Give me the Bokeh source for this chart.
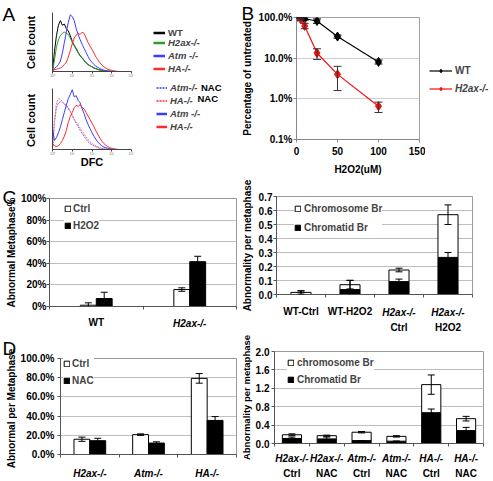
import numpy as np
from bokeh.plotting import figure
from bokeh.layouts import column, row
from bokeh.models import (Range1d, FixedTicker, Legend, LegendItem, Label, LinearAxis,
                          ColumnDataSource, Whisker, TeeHead, PrintfTickFormatter)
from bokeh.embed import file_html
from bokeh.resources import INLINE

FONT = "Liberation Sans"


def S(v):
    return int(round(v))


def fs(v):
    return f"{v:.1f}px"

# ---------------- data ----------------
# Panel A: DFC fluorescence histograms (x = decades, 10^0..10^4; y = relative cell count)
hist_x = [0.0, 0.1, 0.2, 0.3, 0.4, 0.5, 0.6, 0.7, 0.8, 0.9, 1.0, 1.1, 1.2, 1.3, 1.4, 1.5, 1.6, 1.7,
          1.8, 1.9, 2.0, 2.1, 2.2, 2.3, 2.4, 2.5, 2.6, 2.7, 2.8, 2.9, 3.0, 3.1, 3.2, 3.3, 3.4]
a_wt = [0.0, 0.35, 0.62, 0.80, 0.88, 0.80, 0.82, 0.74, 0.70, 0.62, 0.52, 0.45, 0.40, 0.33, 0.27, 0.24,
        0.19, 0.15, 0.12, 0.10, 0.08, 0.06, 0.05, 0.035, 0.025, 0.02, 0.012, 0.008, 0.005, 0.003,
        0.002, 0.001, 0.0, 0.0, 0.0]
a_h2ax = [0.0, 0.20, 0.42, 0.55, 0.62, 0.66, 0.68, 0.66, 0.64, 0.58, 0.50, 0.44, 0.38, 0.32, 0.27,
          0.23, 0.19, 0.15, 0.12, 0.10, 0.08, 0.06, 0.045, 0.035, 0.025, 0.018, 0.012, 0.008, 0.005,
          0.003, 0.002, 0.001, 0.0, 0.0, 0.0]
a_atm = [0.0, 0.05, 0.08, 0.12, 0.18, 0.32, 0.50, 0.68, 0.85, 0.98, 0.95, 0.88, 0.74, 0.64, 0.55,
         0.47, 0.40, 0.33, 0.26, 0.20, 0.16, 0.12, 0.09, 0.07, 0.05, 0.035, 0.025, 0.015, 0.01, 0.005,
         0.003, 0.002, 0.001, 0.0, 0.0]
a_ha = [0.0, 0.03, 0.04, 0.05, 0.06, 0.08, 0.12, 0.16, 0.25, 0.36, 0.48, 0.58, 0.63, 0.66, 0.64, 0.68,
        0.66, 0.58, 0.50, 0.44, 0.38, 0.32, 0.25, 0.20, 0.15, 0.11, 0.08, 0.06, 0.04, 0.03, 0.02,
        0.012, 0.006, 0.002, 0.0]
a_atm_nac = [0.0, 0.45, 0.70, 0.78, 0.80, 0.79, 0.76, 0.74, 0.70, 0.64, 0.58, 0.50, 0.44, 0.38, 0.32,
             0.27, 0.22, 0.17, 0.13, 0.10, 0.08, 0.06, 0.045, 0.03, 0.02, 0.015, 0.01, 0.006, 0.003,
             0.002, 0.001, 0.0, 0.0, 0.0, 0.0]
a_ha_nac = [0.0, 0.50, 0.78, 0.85, 0.84, 0.80, 0.76, 0.72, 0.68, 0.62, 0.56, 0.50, 0.46, 0.41, 0.36,
            0.31, 0.26, 0.21, 0.17, 0.13, 0.10, 0.08, 0.06, 0.045, 0.03, 0.02, 0.013, 0.008, 0.005,
            0.003, 0.002, 0.001, 0.0, 0.0, 0.0]
a_atm2 = [0.35, 0.15, 0.20, 0.28, 0.38, 0.50, 0.62, 0.74, 0.85, 0.92, 1.00, 0.88, 0.90, 0.82, 0.78,
          0.68, 0.60, 0.50, 0.42, 0.35, 0.28, 0.22, 0.17, 0.12, 0.09, 0.06, 0.04, 0.03, 0.02, 0.012,
          0.008, 0.004, 0.002, 0.0, 0.0]
a_ha2 = [0.10, 0.06, 0.05, 0.06, 0.10, 0.15, 0.22, 0.32, 0.45, 0.55, 0.62, 0.70, 0.74, 0.72, 0.75,
         0.70, 0.68, 0.62, 0.56, 0.50, 0.44, 0.38, 0.31, 0.25, 0.19, 0.14, 0.10, 0.07, 0.05, 0.03,
         0.02, 0.012, 0.006, 0.002, 0.0]
hist_ticks = {0: "10\u2070", 1: "10\u00b9", 2: "10\u00b2", 3: "10\u00b3", 4: "10\u2074"}

# Panel B: survival after H2O2
b_dose = [0, 5, 10, 25, 50, 100]
b_wt = [1.00, 0.97, 0.93, 0.82, 0.34, 0.081]
b_wt_lo = [0.96, 0.93, 0.86, 0.72, 0.31, 0.072]
b_wt_hi = [1.04, 1.01, 1.02, 0.92, 0.37, 0.090]
b_h2ax = [1.00, 0.91, 0.62, 0.134, 0.040, 0.0066]
b_h2ax_lo = [0.97, 0.86, 0.53, 0.093, 0.016, 0.0046]
b_h2ax_hi = [1.03, 0.96, 0.72, 0.170, 0.063, 0.0083]
b_yticks = {0.001: "0.1%", 0.01: "1.0%", 0.1: "10.0%", 1: "100.0%"}

# Panel C left: abnormal metaphases (%)
c1_cats = ["WT", "H2ax-/-"]
c1_ctrl = [1.2, 15.7]
c1_ctrl_err = [2.2, 1.6]
c1_h2o2 = [7.4, 41.5]
c1_h2o2_err = [5.8, 5.0]

# Panel C right: abnormality per metaphase
c2_line1 = ["WT-Ctrl", "WT-H2O2", "H2ax-/-", "H2ax-/-"]
c2_line2 = ["", "", "Ctrl", "H2O2"]
c2_chromatid = [0.0, 0.035, 0.092, 0.265]
c2_chromatid_err = [0.025, 0.067, 0.018, 0.035]
c2_chromosome = [0.015, 0.035, 0.083, 0.305]
c2_total_err = [0.012, 0.030, 0.013, 0.070]

# Panel D left: abnormal per metaphase (%)
d1_cats = ["H2ax-/-", "Atm-/-", "HA-/-"]
d1_ctrl = [15.9, 20.7, 79.3]
d1_ctrl_err = [2.2, 0.8, 5.0]
d1_nac = [14.4, 11.9, 35.5]
d1_nac_err = [2.5, 1.3, 4.0]

# Panel D right: abnormality per metaphase
d2_line1 = ["H2ax-/-", "H2ax-/-", "Atm-/-", "Atm-/-", "HA-/-", "HA-/-"]
d2_line2 = ["Ctrl", "NAC", "Ctrl", "NAC", "Ctrl", "NAC"]
d2_chromatid = [0.11, 0.10, 0.063, 0.05, 0.67, 0.28]
d2_chromatid_err = [0.03, 0.04, 0.0, 0.0, 0.08, 0.07]
d2_chromosome = [0.08, 0.07, 0.182, 0.105, 0.61, 0.26]
d2_total_err = [0.02, 0.012, 0.015, 0.015, 0.21, 0.05]

# ---------------- helpers ----------------
AX = "#555555"
OFF = 1000.0   # canvas data offset (legend proxies stay out of view)


def make_fig(box, fr, x_range, y_range, y_axis_type="linear"):
    x0, y0, x1, y1 = box
    fx0, fy0, fx1, fy1 = fr
    p = figure(width=S(x1) - S(x0), height=S(y1) - S(y0), title=None,
               min_border_left=S(fx0) - S(x0), min_border_right=S(x1) - S(fx1),
               min_border_top=S(fy0) - S(y0), min_border_bottom=S(y1) - S(fy1),
               x_range=x_range, y_range=y_range, y_axis_type=y_axis_type,
               output_backend="svg", toolbar_location=None)
    p.outline_line_color = None
    p.grid.visible = False
    p.background_fill_color = "white"
    p.border_fill_color = "white"
    return p


def canvas(box):
    x0, y0, x1, y1 = box
    w, h = S(x1) - S(x0), S(y1) - S(y0)
    p = figure(width=w, height=h, x_range=Range1d(OFF, OFF + w), y_range=Range1d(OFF, OFF + h),
               title=None, min_border_left=0, min_border_right=0, min_border_top=0,
               min_border_bottom=0, x_axis_location=None, y_axis_location=None,
               output_backend="svg", toolbar_location=None)
    p.outline_line_color = None
    p.grid.visible = False
    p.background_fill_color = "white"
    p.border_fill_color = "white"
    return p


def solo(p):
    # wrap so that sibling plots in a row do not get their frames aligned
    return column(p, spacing=0)


def ctext(p, box, ax, ay, t, size=10, style="bold", align="center", angle=0.0):
    x0, y0, x1, y1 = box
    p.add_layout(Label(x=OFF + ax - x0, y=OFF + y1 - ay, text=t, text_font=FONT,
                       text_font_size=fs(size), text_font_style=style, text_align=align,
                       text_baseline="middle", angle=angle, text_color="black"))


def style_axis(ax, size=10, color=AX, tick_out=3, standoff=3):
    ax.axis_line_color = color
    ax.major_tick_line_color = color
    ax.minor_tick_line_color = None
    ax.major_tick_in = 0
    ax.major_tick_out = tick_out
    ax.major_label_standoff = standoff
    ax.major_label_text_font = FONT
    ax.major_label_text_font_size = fs(size)
    ax.major_label_text_font_style = "bold"
    ax.major_label_text_color = "black"


def axis_title(ax, t, standoff, size=10):
    ax.axis_label = t
    ax.axis_label_text_font = FONT
    ax.axis_label_text_font_size = fs(size)
    ax.axis_label_text_font_style = "bold"
    ax.axis_label_text_color = "black"
    ax.axis_label_standoff = standoff


def legend(p, origin, items, lx, cy, size=10, style="bold", pitch=12, gw=7, gh=7,
           standoff=3, bg=False):
    # origin = (left, bottom) of the frame in page pixels; the tuple is the legend's bottom-left
    ox, oyb = origin
    n = len(items)
    H = int(np.ceil(size * 1.35))
    sp = int(round(pitch - H))
    # the legend box height does not shrink for a negative spacing
    bottom = cy - H / 2.0 + n * H + (n - 1) * max(sp, 0)
    lg = Legend(items=items, location=(int(round(lx - ox)), int(round(oyb - bottom))),
                label_text_font=FONT, label_text_font_size=fs(size), label_text_font_style=style,
                glyph_width=gw, glyph_height=gh, label_standoff=standoff,
                label_height=H, label_width=0, spacing=sp, padding=0, margin=0,
                border_line_color=None, background_fill_color="white",
                background_fill_alpha=1.0 if bg else 0.0)
    p.add_layout(lg)


def whisk(p, xs, center, err, color="black", size=7):
    lo = [c - e for c, e in zip(center, err)]
    hi = [c + e for c, e in zip(center, err)]
    src = ColumnDataSource(dict(x=xs, lo=lo, hi=hi))
    p.add_layout(Whisker(base="x", lower="lo", upper="hi", source=src, level="overlay",
                         line_color=color, line_width=1,
                         upper_head=TeeHead(size=size, line_color=color, line_width=1),
                         lower_head=TeeHead(size=size, line_color=color, line_width=1)))


def bar_axes(p, yticks, fmt, standoff):
    ya = p.yaxis[0]
    style_axis(ya, standoff=standoff)
    ya.ticker = FixedTicker(ticks=yticks)
    ya.formatter = PrintfTickFormatter(format=fmt)
    p.ygrid.visible = True
    p.ygrid.grid_line_color = "#bdbdbd"
    p.outline_line_color = "#9a9a9a"


def cat_axis(p, ticks, labels, style, standoff, first=False, ncat=0):
    if first:
        ax = p.xaxis[0]
    else:
        ax = LinearAxis()
        p.add_layout(ax, "below")
    bounds = [i - 0.5 for i in range(ncat + 1)] if first else []
    ax.ticker = FixedTicker(ticks=ticks, minor_ticks=bounds)
    ax.major_label_overrides = {t: l for t, l in zip(ticks, labels)}
    ax.major_label_text_font = FONT
    ax.major_label_text_font_size = fs(10)
    ax.major_label_text_font_style = style
    ax.major_label_text_color = "black"
    ax.major_label_standoff = standoff
    ax.major_tick_in = 0
    ax.major_tick_out = 0
    ax.major_tick_line_color = None
    ax.minor_tick_in = 0
    ax.minor_tick_out = 3 if first else 0
    ax.minor_tick_line_color = AX if first else None
    ax.axis_line_color = AX if first else None


def hist_axes(p):
    xa = p.xaxis[0]
    style_axis(xa, size=3.5, color="#444444", tick_out=2, standoff=0)
    xa.major_label_text_color = "#777777"
    xa.major_label_text_font_style = "normal"
    xa.ticker = FixedTicker(ticks=list(hist_ticks.keys()))
    xa.major_label_overrides = hist_ticks
    ya = p.yaxis[0]
    style_axis(ya, color="#444444", tick_out=0)
    ya.ticker = FixedTicker(ticks=[])

COL_BLUE = "#3c3cff"
COL_RED = "#ff2a2a"
COL_GREEN = "#2e9e2e"
COL_BLUE_L = "#6a6aff"
COL_RED_L = "#ff6f6f"
COL_B_RED = "#ee1111"

R1 = 179   # bottom of first row
R2 = 335   # bottom of second row
R3 = 481

# ---------------- Row 1 ----------------
BOX_LA = (0, 0, 49, R1)
cla = canvas(BOX_LA)
ctext(cla, BOX_LA, 2, 13.5, "A", size=19, style="normal", align="left")
ctext(cla, BOX_LA, 30, 42, "Cell count", size=11, angle=np.pi / 2)
ctext(cla, BOX_LA, 30, 120, "Cell count", size=11, angle=np.pi / 2)

BOX_A1 = (49, 0, 140, 80)
FR_A1 = (52, 12, 131, 72)
pa1 = make_fig(BOX_A1, FR_A1, Range1d(0, 4), Range1d(0, 1.02))
hist_axes(pa1)
for ys, col in [(a_wt, "black"), (a_h2ax, COL_GREEN), (a_atm, COL_BLUE), (a_ha, COL_RED)]:
    pa1.line(hist_x, ys, line_color=col, line_width=1)

BOX_A2 = (49, 80, 140, R1)
FR_A2 = (52, 88, 131, 149)
pa2 = make_fig(BOX_A2, FR_A2, Range1d(0, 4), Range1d(0, 1.02))
hist_axes(pa2)
axis_title(pa2.xaxis[0], "DFC", -3, size=11)
pa2.line(hist_x, a_atm_nac, line_color=COL_BLUE_L, line_width=1, line_dash="2 1")
pa2.line(hist_x, a_ha_nac, line_color=COL_RED_L, line_width=1, line_dash="2 1")
pa2.line(hist_x, a_atm2, line_color=COL_BLUE, line_width=1)
pa2.line(hist_x, a_ha2, line_color=COL_RED, line_width=1)

# legend canvas for panel A (proxy renderers carry the same series, outside the canvas view)
BOX_LEGA = (140, 0, 240, R1)
clg = canvas(BOX_LEGA)
og = (BOX_LEGA[0], BOX_LEGA[3])
la = [clg.line(hist_x, ys, line_color=c, line_width=2.5)
      for ys, c in [(a_wt, "black"), (a_h2ax, COL_GREEN), (a_atm, COL_BLUE), (a_ha, COL_RED)]]
legend(clg, og, [LegendItem(label="WT", renderers=[la[0]])], 153, 32.3,
       size=9.5, style="bold", pitch=10.6, gw=12, gh=9, standoff=3)
legend(clg, og, [LegendItem(label="H2ax-/-", renderers=[la[1]]),
                 LegendItem(label="Atm -/-", renderers=[la[2]]),
                 LegendItem(label="HA-/-", renderers=[la[3]])], 153, 42.9,
       size=9.5, style="bold italic", pitch=10.6, gw=12, gh=9, standoff=3)
lb = [clg.line(hist_x, a_atm_nac, line_color=COL_BLUE, line_width=1.5, line_dash="2 1"),
      clg.line(hist_x, a_ha_nac, line_color=COL_RED, line_width=1.5, line_dash="2 1"),
      clg.line(hist_x, a_atm2, line_color=COL_BLUE, line_width=2.5),
      clg.line(hist_x, a_ha2, line_color=COL_RED, line_width=2.5)]
legend(clg, og, [LegendItem(label="Atm-/-", renderers=[lb[0]]),
                 LegendItem(label="HA-/-", renderers=[lb[1]]),
                 LegendItem(label="Atm -/-", renderers=[lb[2]]),
                 LegendItem(label="HA-/-", renderers=[lb[3]])], 156, 87.3,
       size=9.5, style="bold italic", pitch=11.1, gw=11, gh=9, standoff=3)
ctext(clg, BOX_LEGA, 200.5, 87.3, "NAC", size=9.5, align="left")
ctext(clg, BOX_LEGA, 197, 98.4, "NAC", size=9.5, align="left")

BOX_BS = (240, 0, 255, R1)
cbs = canvas(BOX_BS)
ctext(cbs, BOX_BS, 241, 12.5, "B", size=19, style="normal", align="left")
ctext(cbs, BOX_BS, 246.5, 78, "Percentage of untreated", size=10, angle=np.pi / 2)

BOX_B = (255, 0, 425, R1)
FR_B = (293, 17, 419, 139)
pb = make_fig(BOX_B, FR_B, Range1d(0, 150), Range1d(0.001, 1.0), y_axis_type="log")
style_axis(pb.yaxis[0], color="#888888", standoff=1)
pb.yaxis[0].ticker = FixedTicker(ticks=list(b_yticks.keys()))
pb.yaxis[0].major_label_overrides = b_yticks
style_axis(pb.xaxis[0], color="#888888", standoff=4)
pb.xaxis[0].ticker = FixedTicker(ticks=[0, 50, 100, 150])
axis_title(pb.xaxis[0], "H2O2(uM)", 6)
pb.ygrid.visible = True
pb.ygrid.grid_line_color = "#cfcfcf"
pb.outline_line_color = "#a0a0a0"
pb.line(b_dose, b_wt, line_color="black", line_width=1.2)
pb.scatter(b_dose, b_wt, marker="diamond", size=9, color="black")
pb.line(b_dose, b_h2ax, line_color=COL_B_RED, line_width=1.2)
pb.scatter(b_dose, b_h2ax, marker="diamond", size=9, color=COL_B_RED)
for lo, hi, col in [(b_wt_lo, b_wt_hi, "black"), (b_h2ax_lo, b_h2ax_hi, "#333333")]:
    src = ColumnDataSource(dict(x=b_dose, lo=lo, hi=hi))
    pb.add_layout(Whisker(base="x", lower="lo", upper="hi", source=src, level="overlay",
                          line_color=col, line_width=1,
                          upper_head=TeeHead(size=8, line_color=col, line_width=1),
                          lower_head=TeeHead(size=8, line_color=col, line_width=1)))

BOX_LEGB = (425, 0, 493, R1)
clb = canvas(BOX_LEGB)
ogb = (BOX_LEGB[0], BOX_LEGB[3])
r1 = [clb.line(b_dose, b_wt, line_color="black", line_width=1.2),
      clb.scatter(b_dose, b_wt, marker="diamond", size=9, color="black")]
r2 = [clb.line(b_dose, b_h2ax, line_color=COL_B_RED, line_width=1.2),
      clb.scatter(b_dose, b_h2ax, marker="diamond", size=9, color=COL_B_RED)]
legend(clb, ogb, [LegendItem(label="WT", renderers=r1)], 429, 70,
       size=10, style="bold", pitch=18, gw=23, gh=9, standoff=3)
legend(clb, ogb, [LegendItem(label="H2ax-/-", renderers=r2)], 429, 88,
       size=10, style="bold italic", pitch=18, gw=23, gh=9, standoff=3)

# ---------------- Row 2 ----------------
BOX_CS = (0, R1, 17, R2)
ccs = canvas(BOX_CS)
ctext(ccs, BOX_CS, 2, 197, "C", size=19, style="normal", align="left")
ctext(ccs, BOX_CS, 10.5, 252, "Abnormal Metaphase%", size=10, angle=np.pi / 2)

BOX_C1 = (17, R1, 238, R2)
FR_C1 = (46, 198, 236, 306)
pc1 = make_fig(BOX_C1, FR_C1, Range1d(-0.5, len(c1_cats) - 0.5), Range1d(0, 100))
bar_axes(pc1, [0, 20, 40, 60, 80, 100], "%d%%", 0)
cat_axis(pc1, [0], [c1_cats[0]], "bold", 7, first=True, ncat=len(c1_cats))
cat_axis(pc1, [1], [c1_cats[1]], "bold italic", -13)
BW1 = 0.17
idx1 = list(range(len(c1_cats)))
x1a = [i - BW1 / 2 for i in idx1]
x1b = [i + BW1 / 2 for i in idx1]
rc1 = pc1.vbar(x=x1a, top=c1_ctrl, width=BW1, fill_color="white", line_color="black")
rc2 = pc1.vbar(x=x1b, top=c1_h2o2, width=BW1, fill_color="black", line_color="black")
whisk(pc1, x1a, c1_ctrl, c1_ctrl_err)
whisk(pc1, x1b, c1_h2o2, c1_h2o2_err)
legend(pc1, (FR_C1[0], FR_C1[3]),
       [LegendItem(label="Ctrl", renderers=[rc1]), LegendItem(label="H2O2", renderers=[rc2])],
       61, 208, style="bold", pitch=17, gw=7, gh=7, standoff=2, bg=True)

BOX_C2 = (238, R1, 493, R2)
FR_C2 = (275, 196, 472, 298)
pc2 = make_fig(BOX_C2, FR_C2, Range1d(-0.5, len(c2_line1) - 0.5), Range1d(0, 0.7))
bar_axes(pc2, [0, 0.1, 0.2, 0.3, 0.4, 0.5, 0.6, 0.7], "%.1f", 1)
axis_title(pc2.yaxis[0], "Abnormality per metaphase", 3)
cat_axis(pc2, [0, 1], c2_line1[:2], "bold", 8, first=True, ncat=len(c2_line1))
cat_axis(pc2, [2, 3], c2_line1[2:], "bold italic", -13)
cat_axis(pc2, [2, 3], c2_line2[2:], "bold", 1)
BW2 = 0.41
idx2 = list(range(len(c2_line1)))
c2_total = [a + b for a, b in zip(c2_chromatid, c2_chromosome)]
rk = pc2.vbar(x=idx2, bottom=0, top=c2_chromatid, width=BW2, fill_color="black", line_color="black")
rw = pc2.vbar(x=idx2, bottom=c2_chromatid, top=c2_total, width=BW2, fill_color="white", line_color="black")
whisk(pc2, idx2, c2_chromatid, c2_chromatid_err)
whisk(pc2, idx2, c2_total, c2_total_err)
legend(pc2, (FR_C2[0], FR_C2[3]),
       [LegendItem(label="Chromosome Br", renderers=[rw]),
        LegendItem(label="Chromatid Br", renderers=[rk])],
       293, 212, style="bold", pitch=19, gw=7, gh=7, standoff=3, bg=True)

# ---------------- Row 3 ----------------
BOX_DS = (0, R2, 17, R3)
cds = canvas(BOX_DS)
ctext(cds, BOX_DS, 2, 347.5, "D", size=19, style="normal", align="left")
ctext(cds, BOX_DS, 10.5, 408, "Abnormal per Metaphase", size=10, angle=np.pi / 2)

BOX_D1 = (17, R2, 237, R3)
FR_D1 = (59, 358, 236, 457)
pd1 = make_fig(BOX_D1, FR_D1, Range1d(-0.5, len(d1_cats) - 0.5), Range1d(0, 100))
bar_axes(pd1, [0, 20, 40, 60, 80, 100], "%.1f%%", 3)
cat_axis(pd1, [0, 1, 2], d1_cats, "bold italic", 10, first=True, ncat=len(d1_cats))
BW3 = 0.27
idx3 = list(range(len(d1_cats)))
x3a = [i - BW3 / 2 for i in idx3]
x3b = [i + BW3 / 2 for i in idx3]
rd1 = pd1.vbar(x=x3a, top=d1_ctrl, width=BW3, fill_color="white", line_color="black")
rd2 = pd1.vbar(x=x3b, top=d1_nac, width=BW3, fill_color="black", line_color="black")
whisk(pd1, x3a, d1_ctrl, d1_ctrl_err)
whisk(pd1, x3b, d1_nac, d1_nac_err)
legend(pd1, (FR_D1[0], FR_D1[3]),
       [LegendItem(label="Ctrl", renderers=[rd1]), LegendItem(label="NAC", renderers=[rd2])],
       62, 366, style="bold", pitch=17, gw=7, gh=7, standoff=2, bg=True)

BOX_D2 = (237, R2, 493, R3)
FR_D2 = (270, 351, 483, 447)
pd2 = make_fig(BOX_D2, FR_D2, Range1d(-0.5, len(d2_line1) - 0.5), Range1d(0, 2.0))
bar_axes(pd2, [0, 0.4, 0.8, 1.2, 1.6, 2.0], "%.1f", 2)
axis_title(pd2.yaxis[0], "Abnormality per metaphase", 1, size=9.5)
cat_axis(pd2, list(range(6)), d2_line1, "bold italic", 6, first=True, ncat=len(d2_line1))
cat_axis(pd2, list(range(6)), d2_line2, "bold", 1)
BW4 = 0.55
idx4 = list(range(len(d2_line1)))
d2_total = [a + b for a, b in zip(d2_chromatid, d2_chromosome)]
rk4 = pd2.vbar(x=idx4, bottom=0, top=d2_chromatid, width=BW4, fill_color="black", line_color="black")
rw4 = pd2.vbar(x=idx4, bottom=d2_chromatid, top=d2_total, width=BW4, fill_color="white", line_color="black")
whisk(pd2, idx4, d2_chromatid, d2_chromatid_err)
whisk(pd2, idx4, d2_total, d2_total_err)
legend(pd2, (FR_D2[0], FR_D2[3]),
       [LegendItem(label="chromosome Br", renderers=[rw4]),
        LegendItem(label="Chromatid Br", renderers=[rk4])],
       283, 366, style="bold", pitch=17, gw=7, gh=7, standoff=3, bg=True)

layout = column(
    row(solo(cla), column(pa1, pa2, spacing=0), solo(clg), solo(cbs), solo(pb), solo(clb), spacing=0),
    row(solo(ccs), solo(pc1), solo(pc2), spacing=0),
    row(solo(cds), solo(pd1), solo(pd2), spacing=0),
    spacing=0,
)

open("out.html", "w").write(file_html(layout, INLINE))
